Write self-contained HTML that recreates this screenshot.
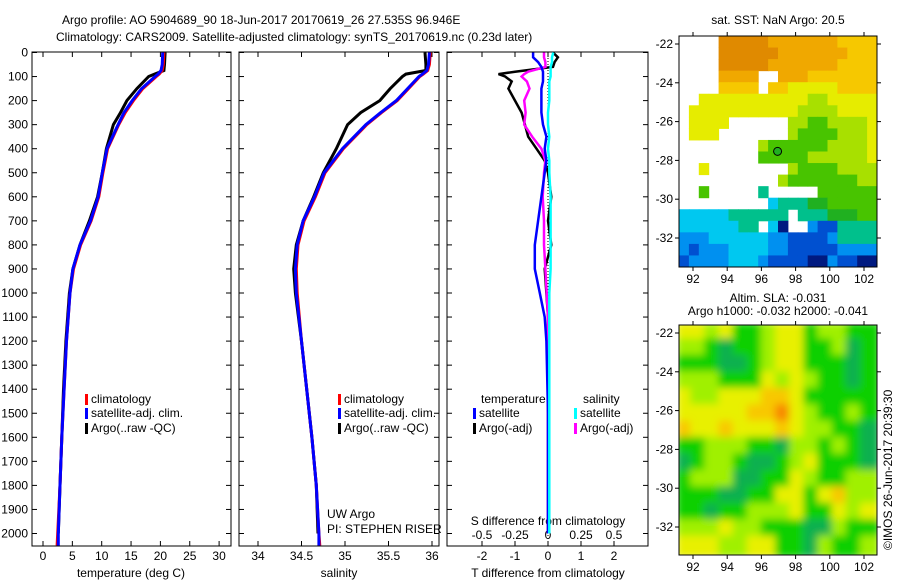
<!DOCTYPE html>
<html><head><meta charset="utf-8"><style>
body{margin:0;background:#fff}
svg{display:block;font-family:"Liberation Sans",sans-serif;font-size:12px}
</style></head><body>
<svg id="c" width="900" height="580" viewBox="0 0 900 580">
<text x="62" y="24">Argo profile: AO 5904689_90 18-Jun-2017 20170619_26 27.535S 96.946E</text>
<text x="56" y="41">Climatology: CARS2009. Satellite-adjusted climatology: synTS_20170619.nc (0.23d later)</text>
<text x="778" y="24" text-anchor="middle">sat. SST: NaN Argo: 20.5</text>
<text x="778" y="302" text-anchor="middle">Altim. SLA: -0.031</text>
<text x="778" y="315" text-anchor="middle">Argo h1000: -0.032 h2000: -0.041</text>
<text transform="translate(892,550) rotate(-90)">©IMOS 26-Jun-2017 20:39:30</text>
<g id="g"></g>
</svg>
<script>
// ---------- data ----------
const depthTicks=[0,100,200,300,400,500,600,700,800,900,1000,1100,1200,1300,1400,1500,1600,1700,1800,1900,2000];
const tempTicks=[0,5,10,15,20,25,30];
const salTicks=[34,34.5,35,35.5,36];
const tdiffTicks=[-2,-1,0,1,2];
const sdiffTicks=[-0.5,-0.25,0,0.25,0.5];
const sdiffLabels=["-0.5","-0.25","0","0.25","0.5"];
const profDepth=[0,50,75,90,100,150,200,250,300,400,500,600,700,800,900,1000,1200,1400,1600,1800,2000,2050];
const tempClim=[20.6,20.5,20.3,19.8,19.3,17.0,15.4,14.0,12.9,11.0,10.2,9.5,8.2,6.4,5.2,4.6,4.0,3.6,3.2,2.9,2.5,2.4];
const tempSat=[20.4,20.3,20.1,19.6,19.1,16.8,15.2,13.8,12.8,10.9,10.1,9.4,8.1,6.3,5.1,4.6,4.0,3.6,3.2,2.9,2.6,2.6];
const tempArgo=[20.8,20.7,20.6,19.0,18.0,16.0,14.3,13.2,12.0,10.8,10.1,9.3,7.9,6.3,5.1,4.5,3.9,3.5,3.2,2.9,2.6];
const salClim=[35.98,35.97,35.95,35.9,35.86,35.73,35.6,35.42,35.25,34.98,34.77,34.66,34.53,34.46,34.44,34.45,34.5,34.56,34.62,34.67,34.70,34.71];
const salSat=[35.97,35.96,35.94,35.89,35.85,35.72,35.59,35.41,35.24,34.97,34.76,34.65,34.52,34.45,34.43,34.44,34.5,34.56,34.62,34.67,34.70,34.70];
const salArgo=[35.92,35.93,35.93,35.7,35.66,35.52,35.40,35.18,35.03,34.90,34.75,34.64,34.52,34.44,34.41,34.43,34.5,34.56,34.62,34.67,34.69];
const diffDepth=[0,20,40,60,80,90,100,120,150,200,250,300,350,400,450,500,600,700,800,900,1000,1100,1200,1500,2000];
const tdiffArgo=[0.15,0.3,0.2,0.15,-1.0,-1.5,-1.3,-1.1,-1.2,-1.0,-0.8,-0.7,-0.6,-0.35,-0.1,0,0.1,0.0,0.1,-0.1,-0.05,0,0,0,0];
const tdiffSat=[-0.45,-0.45,-0.3,-0.2,-0.15,-0.15,-0.15,-0.15,-0.2,-0.2,-0.2,-0.15,-0.05,-0.1,-0.05,-0.1,-0.2,-0.3,-0.4,-0.4,-0.25,-0.1,-0.05,0,0];
const sdiffArgo=[-0.03,-0.03,-0.02,-0.02,-0.15,-0.18,-0.2,-0.16,-0.14,-0.18,-0.17,-0.18,-0.12,-0.05,-0.02,-0.03,-0.04,-0.03,-0.03,-0.02,-0.01,0,0,0,0];
const sdiffSat=[0.04,0.03,0.03,0.02,0.02,0.02,0.02,0.01,0.01,0.01,0.0,0.0,0.01,0.0,0.01,0.01,0.02,0.02,0.02,0.02,0.01,0.01,0.01,0.01,0.01];
const lonTicks=[92,94,96,98,100,102];
const latTicks=[-22,-24,-26,-28,-30,-32];
const sstRows=[
"....0000011111112222","....0000001111111222","....0000011111112222","....1111..1112222222",
"....2222.22333332222","..333333333334433333",".3333333333344443333",".3333......445544443",
".333.......455554443","........455555544443","........555554444443","..3........455554444",
"..........4555555544","..5.....7.....555555",".........87776655555","88888777777.77766655",
"88888877.8b..9aa7777","99988888899aaaa97777","9a999888899aaaaa9999","a99998889aaaabb9aabb"];
const slaRows=[
"33435543354455","44565543355465","55566543355565","44455534345565","34433322355555",
"33333221345545","23323332344556","55444556445456","65445665435556","54446655345544",
"55566553353244","55655444355343","44434455566455","33344335564554"];
const argoLon=[96.946], argoLat=[-27.535];
// ---------- drawing ----------
const NS="http://www.w3.org/2000/svg", G=document.getElementById('g');
function el(t,a,p){const e=document.createElementNS(NS,t);for(const k in a)e.setAttribute(k,a[k]);(p||G).appendChild(e);return e;}
const yD=d=>52.5+d*0.2405;
const Y0=52,Y1=546;
const panels=[{x0:32,x1:231,f:v=>43+v*5.87},{x0:239,x1:439,f:v=>258+(v-34)*87},{x0:447,x1:648,f:v=>548+v*33}];
const sx=v=>548+v*132;
panels.forEach((p,i)=>{
  const r=el('rect',{x:p.x0,y:Y0,width:p.x1-p.x0,height:Y1-Y0,fill:'none',stroke:'#000','stroke-width':1});
  
  
  depthTicks.forEach(d=>{
    el('line',{x1:p.x0,x2:p.x0+5,y1:yD(d),y2:yD(d),stroke:'#000'});
    el('line',{x1:p.x1,x2:p.x1-5,y1:yD(d),y2:yD(d),stroke:'#000'});
  });
});
depthTicks.forEach(d=>{
  const t=el('text',{x:28,y:yD(d)+4,'text-anchor':'end'});t.textContent=d;
  
  
});
function xticks(p,ticks,labels,ly){
  ticks.forEach((v,i)=>{const x=p.f(v);
    el('line',{x1:x,x2:x,y1:Y0,y2:Y0+5,stroke:'#000'});el('line',{x1:x,x2:x,y1:Y1,y2:Y1-5,stroke:'#000'});
    const t=el('text',{x:x,y:ly,'text-anchor':'middle'});t.textContent=labels?labels[i]:v;
    
    });
}
xticks(panels[0],tempTicks,null,560);
xticks(panels[1],salTicks,null,560);
xticks(panels[2],tdiffTicks,null,560);
sdiffTicks.forEach((v,i)=>{const t=el('text',{x:sx(v),y:539,'text-anchor':'middle'});t.textContent=sdiffLabels[i];
  
  });
[["temperature (deg C)",131],["salinity",339],["T difference from climatology",548]].forEach(a=>{
  const t=el('text',{x:a[1],y:577,'text-anchor':'middle'});t.textContent=a[0];
  
  });
const st=el('text',{x:548,y:525,'text-anchor':'middle'});st.textContent="S difference from climatology";


el('line',{x1:548,x2:548,y1:Y0,y2:Y1,stroke:'#000','stroke-dasharray':'1,2'});
function line(vals,depths,fx,col,name,w){
  const pts=vals.map((v,i)=>fx(v).toFixed(1)+','+yD(depths[i]).toFixed(1)).join(' ');
  const l=el('polyline',{points:pts,fill:'none',stroke:col,'stroke-width':w||3});
  
  
}
line(tempArgo,profDepth,panels[0].f,'#000','temp-argo-line');
line(tempClim,profDepth,panels[0].f,'#f00','temp-climatology-line');
line(tempSat,profDepth,panels[0].f,'#00f','temp-satellite-line');
line(salArgo,profDepth,panels[1].f,'#000','salinity-argo-line');
line(salClim,profDepth,panels[1].f,'#f00','salinity-climatology-line');
line(salSat,profDepth,panels[1].f,'#00f','salinity-satellite-line');
line(tdiffArgo,diffDepth,panels[2].f,'#000','tdiff-argo-line',2.5);
line(sdiffArgo,diffDepth,sx,'#f0f','sdiff-argo-line',2.5);
line(tdiffSat,diffDepth,panels[2].f,'#00f','tdiff-satellite-line',2.5);
line(sdiffSat,diffDepth,sx,'#0ff','sdiff-satellite-line',2.5);
function leg(x,y,col,txt){
  el('rect',{x:x,y:y-9,width:3,height:11,fill:col});
  const t=el('text',{x:x+6,y:y});t.textContent=txt;
  
  
}
[[85,'#f00','climatology',403],[85,'#00f','satellite-adj. clim.',417],[85,'#000','Argo(..raw -QC)',432]].forEach(a=>leg(a[0],a[3],a[1],a[2]));
[[338,'#f00','climatology',403],[338,'#00f','satellite-adj. clim.',417],[338,'#000','Argo(..raw -QC)',432]].forEach(a=>leg(a[0],a[3],a[1],a[2]));
[[473,'#00f','satellite',417],[473,'#000','Argo(-adj)',432],[574,'#0ff','satellite',417],[574,'#f0f','Argo(-adj)',432]].forEach(a=>leg(a[0],a[3],a[1],a[2]));
[["temperature",481,403],["salinity",583,403],["UW Argo",327,518],["PI: STEPHEN RISER",327,533]].forEach(a=>{
  const t=el('text',{x:a[1],y:a[2]});t.textContent=a[0];
  
  });
// maps
const MX0=679,MX1=877,lon=v=>693+(v-92)*17.1;
function map(rows,y0,y1,pal,name,blur){
  const lat=v=>(name==='sst-map'?44:333)+(-22-v)*19.4;
  const nr=rows.length,nc=rows[0].length,cw=(MX1-MX0)/nc,ch=(y1-y0)/nr;
  const cid='clip'+name;
  const cp=el('clipPath',{id:cid});el('rect',{x:MX0,y:y0,width:MX1-MX0,height:y1-y0},cp);
  const g=el('g',{'clip-path':'url(#'+cid+')'});
  const gi=el('g',blur?{filter:'url(#bl)'}:{},g);
  rows.forEach((r,i)=>{for(let j=0;j<nc;j++){const c=r[j];if(c==='.')continue;
    const cell=el('rect',{x:MX0+j*cw-(blur?3:0),y:y0+i*ch-(blur?3:0),width:cw+(blur?6:0.5),height:ch+(blur?6:0.5),fill:pal[c]},gi);
    
    }});
  const f=el('rect',{x:MX0,y:y0,width:MX1-MX0,height:y1-y0,fill:'none',stroke:'#000'});
  
  
  lonTicks.forEach(v=>{const x=lon(v);el('line',{x1:x,x2:x,y1:y1,y2:y1+4,stroke:'#000'});el('line',{x1:x,x2:x,y1:y0,y2:y0-4,stroke:'#000'});
    const t=el('text',{x:x,y:y1+16,'text-anchor':'middle'});t.textContent=v;
    
    });
  latTicks.forEach(v=>{const y=lat(v);el('line',{x1:MX0-4,x2:MX0,y1:y,y2:y,stroke:'#000'});el('line',{x1:MX1,x2:MX1+4,y1:y,y2:y,stroke:'#000'});
    const t=el('text',{x:MX0-6,y:y+4,'text-anchor':'end'});t.textContent=v;
    
    });
  return lat;
}
const defs=el('defs',{});const fl=el('filter',{id:'bl',x:'-10%',y:'-10%',width:'120%',height:'120%'},defs);el('feGaussianBlur',{stdDeviation:4},fl);
const sstPal={'0':'#e08a00','1':'#f0a800','2':'#f6c800','3':'#e6ec00','4':'#a8e000','5':'#48c400','6':'#20b020','7':'#00c08c','8':'#00c8f0','9':'#0090f0','a':'#0050d0','b':'#001a80'};
const slaPal={'1':'#f88800','2':'#f8c800','3':'#e8f000','4':'#a0f000','5':'#10d000','6':'#10b050'};
const latS=map(sstRows,36,267,sstPal,'sst-map',false);
map(slaRows,325,555,slaPal,'sla-map',true);
const ac=el('circle',{cx:lon(argoLon[0]),cy:latS(argoLat[0]),r:4,fill:'#20b020',stroke:'#000'});


</script>
</body></html>
